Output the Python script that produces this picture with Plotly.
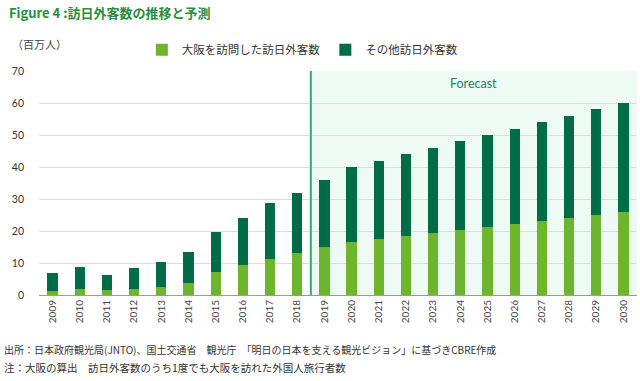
import plotly.graph_objects as go

years = [str(y) for y in range(2009, 2031)]
osaka = [1.3, 2.0, 1.5, 2.0, 2.6, 3.8, 7.2, 9.4, 11.1, 13.0,
         15.0, 16.6, 17.5, 18.4, 19.4, 20.3, 21.1, 22.2, 23.1, 24.1, 25.0, 25.9]
other = [5.5, 6.6, 4.7, 6.4, 7.8, 9.6, 12.5, 14.6, 17.6, 19.0,
         21.0, 23.4, 24.5, 25.6, 26.6, 27.7, 28.9, 29.8, 30.9, 31.9, 33.0, 34.1]
series_names = ["大阪を訪問した訪日外客数", "その他訪日外客数"]
y_ticks = [0, 10, 20, 30, 40, 50, 60, 70]

LIGHT = "#6cb52d"
DARK = "#006b47"
JP = "Noto Sans CJK JP"
NUM = "Lato, Noto Sans CJK JP"

fig = go.Figure()
fig.add_trace(go.Bar(x=years, y=osaka, name=series_names[0], marker_color=LIGHT,
                     marker_line_width=0))
fig.add_trace(go.Bar(x=years, y=other, name=series_names[1], marker_color=DARK,
                     marker_line_width=0))

# forecast region
fig.add_shape(type="rect", xref="x", yref="y", x0=9.5, x1=21.5, y0=0, y1=70,
              fillcolor="#eefbf5", line_width=0, layer="below")
fig.add_shape(type="line", xref="x", yref="y", x0=9.5, x1=9.5, y0=0, y1=70,
              line=dict(color="#3aa57c", width=2))
fig.add_annotation(x=15.5, y=66, xref="x", yref="y", text="Forecast", showarrow=False,
                   font=dict(family=NUM, size=12.5, color="#2f7d60"))

# title, unit, footer
fig.add_annotation(x=-0.054, y=1.263, xref="paper", yref="paper", xanchor="left",
                   yanchor="middle", showarrow=False,
                   text="<b>Figure 4 :訪日外客数の推移と予測</b>",
                   font=dict(family=JP, size=13, color="#2a8c3c"))
fig.add_annotation(x=-0.048, y=1.12, xref="paper", yref="paper", xanchor="left",
                   yanchor="middle", showarrow=False, text="（百万人）",
                   font=dict(family=JP, size=11, color="#444444"))
fig.add_annotation(x=-0.062, y=-0.245, xref="paper", yref="paper", xanchor="left",
                   yanchor="middle", showarrow=False,
                   text="出所：日本政府観光局(JNTO)、国土交通省　観光庁　「明日の日本を支える観光ビジョン」に基づきCBRE作成",
                   font=dict(family=JP, size=10, color="#333333"))
fig.add_annotation(x=-0.062, y=-0.325, xref="paper", yref="paper", xanchor="left",
                   yanchor="middle", showarrow=False,
                   text="注：大阪の算出　訪日外客数のうち1度でも大阪を訪れた外国人旅行者数",
                   font=dict(family=JP, size=10.5, color="#333333"))

fig.update_layout(
    width=640, height=381,
    margin=dict(l=39, r=3, t=71, b=86),
    barmode="stack", bargap=0.62,
    paper_bgcolor="white", plot_bgcolor="white",
    font=dict(family=NUM, size=10, color="#333333"),
    showlegend=True,
    legend=dict(orientation="h", x=0.172, y=1.095, xanchor="left", yanchor="middle",
                font=dict(family=JP, size=11.5, color="#333333"),
                itemwidth=30, traceorder="normal", bgcolor="rgba(0,0,0,0)"),
)
fig.update_xaxes(type="category", tickangle=-90, showgrid=False,
                 showline=True, linecolor="#9a9a9a", linewidth=1,
                 tickfont=dict(family=NUM, size=10, color="#444444"), ticks="")
fig.update_yaxes(range=[0, 70], tickvals=y_ticks, showgrid=True, gridcolor="#dcdcdc",
                 gridwidth=1, zeroline=False, showline=False, ticks="",
                 ticklabelstandoff=14,
                 tickfont=dict(family=NUM, size=10.5, color="#333333"))

fig.write_html("out.html", config={"displayModeBar": False},
               post_script="document.body.style.margin='0';document.body.style.overflow='hidden';")
